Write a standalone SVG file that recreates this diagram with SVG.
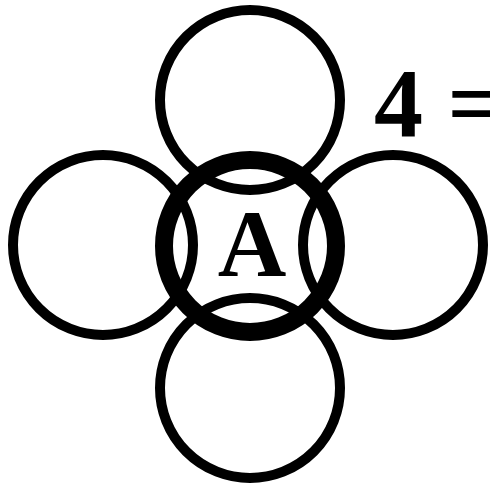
<svg xmlns="http://www.w3.org/2000/svg" width="490" height="484" viewBox="0 0 490 484">
<style>
.c{fill:none;stroke:#000;stroke-width:10}
.t{font-family:"Liberation Serif","Times New Roman",serif;font-weight:bold;fill:#000}
</style>
<rect width="490" height="484" fill="#fff"/>
<g id="top"><circle class="c" cx="250" cy="100" r="90"/></g>
<g id="left"><circle class="c" cx="103" cy="245" r="90"/></g>
<g id="right"><circle class="c" cx="393" cy="245" r="90"/></g>
<g id="bottom"><circle class="c" cx="250" cy="388" r="90"/></g>
<g id="center"><circle cx="250" cy="246" r="86" fill="none" stroke="#000" stroke-width="18"/>
<text class="t" x="252" y="276" font-size="95" text-anchor="middle">A</text></g>
<g id="label"><text class="t" x="374" y="136" font-size="98">4 =</text></g>
</svg>
